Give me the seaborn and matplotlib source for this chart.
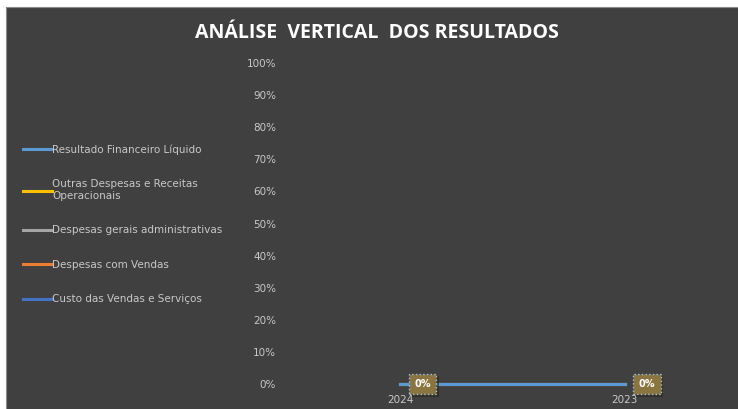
import numpy as np
import pandas as pd
import matplotlib
matplotlib.use("Agg")
import matplotlib.pyplot as plt
import matplotlib.patheffects as pe
from matplotlib.lines import Line2D
from matplotlib.patches import Rectangle
import seaborn as sns

# data
years = ["2024", "2023"]
series = [
    "Custo das Vendas e Serviços",
    "Despesas com Vendas",
    "Despesas gerais administrativas",
    "Outras Despesas e Receitas\nOperacionais",
    "Resultado Financeiro Líquido",
]
values = {
    "Custo das Vendas e Serviços": [0.0, 0.0],
    "Despesas com Vendas": [0.0, 0.0],
    "Despesas gerais administrativas": [0.0, 0.0],
    "Outras Despesas e Receitas\nOperacionais": [0.0, 0.0],
    "Resultado Financeiro Líquido": [0.0, 0.0],
}
colors = ["#4472C4", "#ED7D31", "#A5A5A5", "#FFC000", "#5B9BD5"]
yticks = [0, 0.1, 0.2, 0.3, 0.4, 0.5, 0.6, 0.7, 0.8, 0.9, 1.0]

rows = []
for s in series:
    for y, v in zip(years, values[s]):
        rows.append({"Ano": y, "Serie": s, "Valor": v})
df = pd.DataFrame(rows)

bg = "#404040"
txt = "#c8c8c8"

fig = plt.figure(figsize=(7.38, 4.09), dpi=100, facecolor=bg)
# white margin + thin frame like the excel screenshot
fig.patches.append(Rectangle((0, 0), 6 / 738, 1, transform=fig.transFigure,
                             facecolor="white", edgecolor="none", zorder=-5))
fig.patches.append(Rectangle((0, 1 - 7 / 409), 1, 7 / 409, transform=fig.transFigure,
                             facecolor="white", edgecolor="none", zorder=-5))
fig.patches.append(Rectangle((6 / 738, -0.01), 1, 1 - 7 / 409 + 0.01, transform=fig.transFigure,
                             facecolor="none", edgecolor="#8c8c8c", lw=0.8, zorder=-4))

ax = fig.add_axes([290 / 738, 1 - 384 / 409, 445 / 738, (384 - 63) / 409])
ax.set_facecolor(bg)

sns.lineplot(data=df, x="Ano", y="Valor", hue="Serie", hue_order=series,
             palette=dict(zip(series, colors)), linewidth=2.2, ax=ax,
             legend=False, zorder=3)

ax.set_xlim(-0.49, 1.49)
ax.set_ylim(0, 1.0)
ax.set_yticks(yticks)
ax.set_yticklabels([f"{int(round(t * 100))}%" for t in yticks])
ax.tick_params(axis="both", length=0, colors=txt, labelsize=7.5)
ax.tick_params(axis="y", pad=10)
ax.tick_params(axis="x", pad=8)
ax.set_xlabel("")
ax.set_ylabel("")
for sp in ax.spines.values():
    sp.set_visible(False)
for ln in ax.lines:
    ln.set_clip_on(False)

# data labels
top = series[-1]
for i, v in enumerate(values[top]):
    t = ax.annotate(f"{v:.0%}", xy=(i, v), xytext=(16, 0), textcoords="offset points",
                    ha="center", va="center", fontsize=7, fontweight="bold",
                    color="white", zorder=5, annotation_clip=False,
                    bbox=dict(boxstyle="square,pad=0.55", facecolor="#8a7440",
                              edgecolor="#9dc3e6", linestyle=":", lw=1.0))
    t.get_bbox_patch().set_path_effects([pe.SimplePatchShadow(offset=(2, -2), alpha=0.6),
                                         pe.Normal()])

# legend
handles = [Line2D([0], [0], color=c, lw=2.2) for c in colors][::-1]
labels = series[::-1]
leg = fig.legend(handles, labels, loc="upper left", bbox_to_anchor=(14 / 738, 1 - 135 / 409),
                 frameon=False, fontsize=7.5, labelcolor=txt, handlelength=2.7,
                 handletextpad=0.05, labelspacing=2.35)

fig.text(377 / 738, 1 - 33 / 409, "ANÁLISE  VERTICAL  DOS RESULTADOS", ha="center",
         va="center", color="white", fontsize=14, fontweight="bold", family="Open Sans")

fig.savefig("out.png", dpi=100, facecolor=fig.get_facecolor())
